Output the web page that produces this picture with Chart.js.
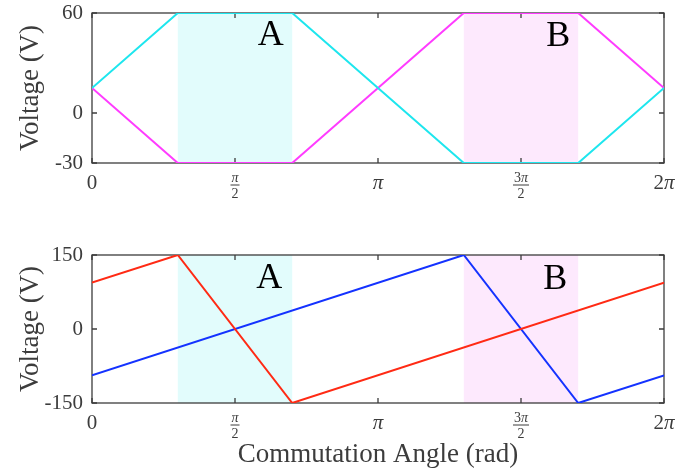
<!DOCTYPE html>
<html>
<head>
<title>Commutation Voltage</title>
<style>
  body{margin:0;background:#fff;}
  .panel{position:absolute;left:0;width:677px;height:236px;}
</style>
</head>
<body>
<div class="panel" style="top:0"><canvas id="topPlot" width="677" height="236"></canvas></div>
<div class="panel" style="top:236px"><canvas id="bottomPlot" width="677" height="236"></canvas></div>

<script src="https://cdn.jsdelivr.net/npm/chart.js@4"></script>
<script>
// all angles are in units of pi
const xTicks = [0, 0.5, 1, 1.5, 2];
const xTickText = ['0', ['π', '2'], 'π', ['3π', '2'], '2π'];
const bandA = [0.3, 0.7];
const bandB = [1.3, 1.7];

// top panel
const topAngle = [0, 0.3, 0.7, 1.3, 1.7, 2];
const cyanV = [15, 60, 60, -30, -30, 15];
const magentaV = [15, -30, -30, 60, 60, 15];
const topYTicks = [-30, 0, 60];

// bottom panel
const redAngle = [0, 0.3, 0.7, 2];
const redV = [94, 150, -150, 94];
const blueAngle = [0, 1.3, 1.7, 2];
const blueV = [-94, 150, -150, -94];
const bottomYTicks = [-150, 0, 150];

const serif = '"Liberation Serif", "Times New Roman", serif';
const gray = '#3c3c3c';

function pts(xs, ys) {
    return xs.map((v, i) => ({x: v, y: ys[i]}));
}

// draws text centred at cx, with every π in italic
function mathText(ctx, str, cx, by, size) {
    const parts = str.split(/(π)/).filter(p => p);
    const fontOf = p => (p === 'π' ? 'italic ' : '') + size + 'px ' + serif;
    let total = 0;
    parts.forEach(p => { ctx.font = fontOf(p); total += ctx.measureText(p).width; });
    let px = cx - total / 2;
    ctx.textAlign = 'left';
    parts.forEach(p => {
        ctx.font = fontOf(p);
        ctx.fillText(p, px, by);
        px += ctx.measureText(p).width;
    });
    return total;
}

const framePlugin = {
    id: 'frame',
    beforeDatasetsDraw(chart, args, opts) {
        const {ctx, chartArea: a, scales: {x, y}} = chart;
        ctx.save();
        opts.bands.forEach(b => {
            const x0 = x.getPixelForValue(b.range[0]);
            const x1 = x.getPixelForValue(b.range[1]);
            ctx.fillStyle = b.color;
            ctx.fillRect(x0, a.top, x1 - x0, a.bottom - a.top);
        });
        ctx.strokeStyle = gray;
        ctx.lineWidth = 1.3;
        ctx.strokeRect(a.left, a.top, a.right - a.left, a.bottom - a.top);
        // inward tick marks, matlab style
        ctx.beginPath();
        xTicks.forEach(v => {
            const px = x.getPixelForValue(v);
            ctx.moveTo(px, a.bottom); ctx.lineTo(px, a.bottom - 5);
            ctx.moveTo(px, a.top); ctx.lineTo(px, a.top + 5);
        });
        y.ticks.forEach(t => {
            const py = y.getPixelForValue(t.value);
            ctx.moveTo(a.left, py); ctx.lineTo(a.left + 5, py);
            ctx.moveTo(a.right, py); ctx.lineTo(a.right - 5, py);
        });
        ctx.stroke();
        ctx.restore();
    },
    afterDraw(chart, args, opts) {
        const {ctx, chartArea: a, scales: {x, y}} = chart;
        ctx.save();
        ctx.textBaseline = 'alphabetic';
        ctx.fillStyle = gray;
        xTicks.forEach((v, i) => {
            const px = x.getPixelForValue(v);
            const lab = xTickText[i];
            if (Array.isArray(lab)) {
                const w = mathText(ctx, lab[0], px, a.bottom + 19, 14) + 2;
                mathText(ctx, lab[1], px, a.bottom + 35, 14);
                ctx.fillRect(px - w / 2, a.bottom + 21.5, w, 1);
            } else {
                mathText(ctx, lab, px, a.bottom + 26, 21);
            }
        });
        ctx.fillStyle = '#000';
        ctx.textAlign = 'center';
        ctx.font = '36px ' + serif;
        opts.letters.forEach(l => {
            ctx.fillText(l.text, x.getPixelForValue(l.x), y.getPixelForValue(l.y));
        });
        ctx.restore();
    }
};

function makeChart(id, datasets, yTicks, xHeight, padTop, letters, xTitle) {
    return new Chart(id, {
        type: 'line',
        data: {datasets: datasets},
        options: {
            responsive: false,
            animation: false,
            layout: {padding: {top: padTop, right: 13, left: 0, bottom: 0}},
            plugins: {
                legend: {display: false},
                tooltip: {enabled: false},
                frame: {
                    bands: [
                        {range: bandA, color: '#e2fcfc'},
                        {range: bandB, color: '#fde9fd'}
                    ],
                    letters: letters
                }
            },
            scales: {
                x: {
                    type: 'linear', min: 0, max: 2,
                    grid: {display: false, drawTicks: false},
                    border: {display: false},
                    ticks: {display: false},
                    title: {
                        display: !!xTitle, text: xTitle || '', color: gray,
                        font: {family: serif, size: 27}, padding: {top: 0, bottom: 1}
                    },
                    afterFit: s => { s.height = xHeight; s.paddingLeft = 0; s.paddingRight = 0; }
                },
                y: {
                    type: 'linear', min: yTicks[0], max: yTicks[yTicks.length - 1],
                    grid: {display: false, drawTicks: false},
                    border: {display: false},
                    afterBuildTicks: s => { s.ticks = yTicks.map(v => ({value: v})); },
                    ticks: {color: gray, font: {family: serif, size: 21}, padding: 9},
                    title: {
                        display: true, text: 'Voltage (V)', color: gray,
                        font: {family: serif, size: 27}, padding: {top: 15, bottom: 0}
                    },
                    afterFit: s => { s.width = 92; s.paddingTop = 0; s.paddingBottom = 0; }
                }
            }
        },
        plugins: [framePlugin]
    });
}

const line = (data, color) => ({
    data: data, borderColor: color, borderWidth: 2,
    pointRadius: 0, fill: false, tension: 0
});

makeChart('topPlot', [
    line(pts(topAngle, cyanV), '#1ee6ee'),
    line(pts(topAngle, magentaV), '#ff3cff')
], topYTicks, 73, 13, [
    {text: 'A', x: 0.625, y: 41},
    {text: 'B', x: 1.63, y: 40}
]);

makeChart('bottomPlot', [
    line(pts(redAngle, redV), '#ff2a14'),
    line(pts(blueAngle, blueV), '#1432ff')
], bottomYTicks, 69, 19, [
    {text: 'A', x: 0.62, y: 83},
    {text: 'B', x: 1.62, y: 81}
], 'Commutation Angle (rad)');
</script>
</body>
</html>
